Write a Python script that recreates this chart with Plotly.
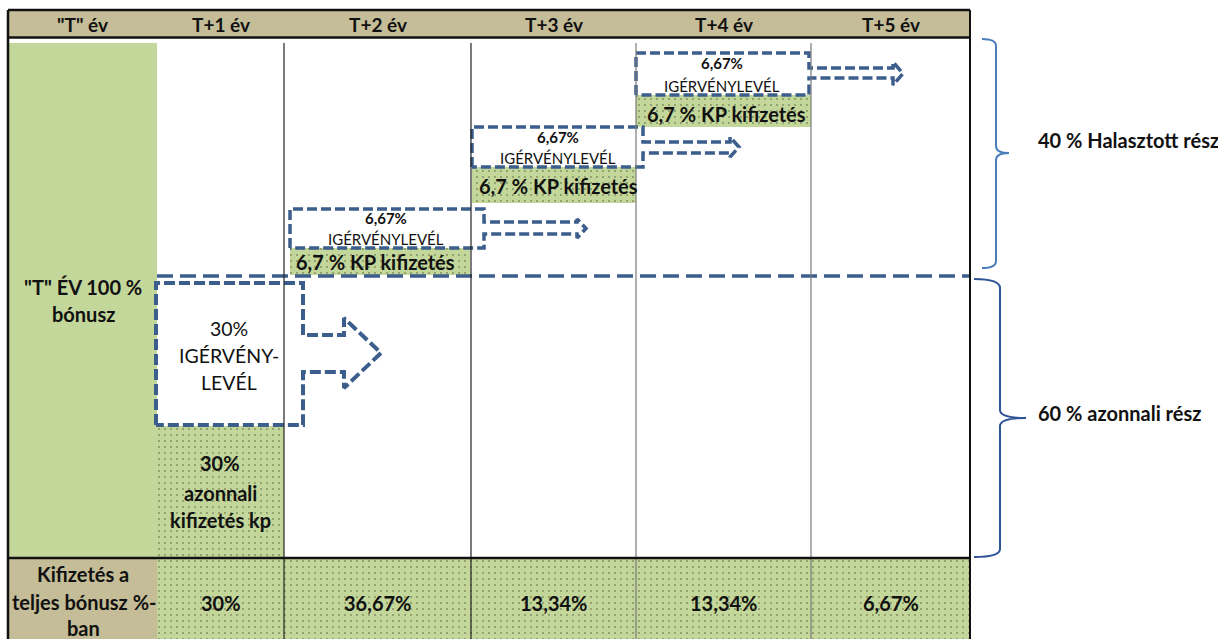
import plotly.graph_objects as go

# ---------------- data ----------------
year_headers = ['"T" év', 'T+1 év', 'T+2 év', 'T+3 év', 'T+4 év', 'T+5 év']
payout_share = [30.00, 36.67, 13.34, 13.34, 6.67]          # % of total bonus paid per year (T+1..T+5)
immediate_cash = 30                                         # % immediate cash
immediate_letter = 30                                       # % promise letter (T+1)
deferred_letters = [6.67, 6.67, 6.67]                       # % deferred promise letters (T+2..T+4)
deferred_cash = [6.7, 6.7, 6.7]                             # % deferred cash (T+2..T+4)
deferred_total = 40
immediate_total = 60

def hu(v, nd=2):
    s = f"{v:.{nd}f}".rstrip("0").rstrip(".") if nd else f"{v}"
    return s.replace(".", ",")

# ---------------- layout constants ----------------
W, H = 1218, 639
XE = [8, 157, 284, 471, 636, 811, 970]      # column edges
Y_TOP, Y_HEAD, Y_BODY0, Y_FOOT, Y_END = 10, 37.5, 43, 558, 660
Y_SPLIT = 276
GREEN = "#c4d79b"
TAN = "#c4bd97"
BLUE = "#3b5e8c"
FONT = "Lato"

fig = go.Figure()

def rect_xy(x0, x1, y0, y1):
    return [x0, x1, x1, x0, x0], [y0, y0, y1, y1, y0]

def solid(x0, x1, y0, y1, color):
    xs, ys = rect_xy(x0, x1, y0, y1)
    fig.add_trace(go.Scatter(x=xs, y=ys, mode="none", fill="toself",
                             fillcolor=color, hoverinfo="skip"))

def dotted(x0, x1, y0, y1):
    xs, ys = rect_xy(x0, x1, y0, y1)
    fig.add_trace(go.Scatter(x=xs, y=ys, mode="none", fill="toself",
                             fillcolor=GREEN,
                             fillpattern=dict(shape=".", fgcolor="#3a4424", bgcolor=GREEN,
                                              size=6, solidity=0.08),
                             hoverinfo="skip"))

# header band
solid(XE[0], XE[-1], Y_TOP, Y_HEAD, TAN)
# left green column
solid(XE[0], XE[1], Y_BODY0, Y_FOOT, GREEN)
# footer
solid(XE[0], XE[1], Y_FOOT, Y_END, TAN)
for i in range(1, 6):
    dotted(XE[i], XE[i + 1], Y_FOOT, Y_END)
# immediate cash cell
dotted(XE[1], XE[2], 426, Y_FOOT)
# deferred cash cells
cash_cells = [(290, 470, 248, 275), (472, 636, 167, 203), (636, 811, 95, 127)]
for (x0, x1, y0, y1) in cash_cells:
    dotted(x0, x1, y0, y1)

# grid lines
shapes = []
for i, x in enumerate(XE[2:-1]):
    shapes.append(dict(type="line", x0=x, x1=x, y0=Y_BODY0, y1=Y_END,
                       line=dict(color="#222" if i < 2 else "#7a7a7a", width=1.2)))
shapes += [
    dict(type="line", x0=XE[0], x1=XE[-1], y0=Y_TOP, y1=Y_TOP, line=dict(color="#111", width=2.5)),
    dict(type="line", x0=XE[0], x1=XE[-1], y0=Y_HEAD, y1=Y_HEAD, line=dict(color="#111", width=2.5)),
    dict(type="line", x0=XE[0], x1=XE[-1], y0=Y_FOOT, y1=Y_FOOT, line=dict(color="#111", width=2.5)),
    dict(type="line", x0=XE[0], x1=XE[0], y0=Y_TOP, y1=Y_END, line=dict(color="#111", width=2.5)),
    dict(type="line", x0=XE[-1], x1=XE[-1], y0=Y_TOP, y1=Y_END, line=dict(color="#111", width=2)),
]
# braces
shapes.append(dict(type="path",
    path="M 982,39 Q 996,39 996,46 L 996,146 Q 996,153 1009,153 Q 996,153 996,160 L 996,261 Q 996,268 982,268",
    line=dict(color="#4a7ebb", width=2)))
shapes.append(dict(type="path",
    path="M 974,279 Q 1000,279 1000,288 L 1000,410 Q 1000,418 1026,418 Q 1000,418 1000,426 L 1000,549 Q 1000,557 974,557",
    line=dict(color="#2f5496", width=2)))

# split dashed line
fig.add_trace(go.Scatter(x=[XE[1], XE[-1]], y=[Y_SPLIT, Y_SPLIT], mode="lines",
                         line=dict(color=BLUE, width=3.5, dash="16px,7px"), hoverinfo="skip"))

def callout(l, r, t, b, st, sb, se, ht, hb, tip, width=3.5, dash="10px,4px"):
    mid = (ht + hb) / 2
    xs = [l, l, r, r, se, se, tip, se, se, r, r, l]
    ys = [b, t, t, st, st, ht, mid, hb, sb, sb, b, b]
    fig.add_trace(go.Scatter(x=xs, y=ys, mode="lines",
                             line=dict(color=BLUE, width=width, dash=dash), hoverinfo="skip"))

# big callout (immediate promise letter)
callout(156, 303, 283, 425, 335, 372, 344, 318, 388, 381, width=4, dash="11px,4px")
# deferred callouts
callout(290, 484, 209, 248, 222, 234, 577, 219, 238, 586)
callout(472, 643, 127, 167, 142, 153, 730, 137, 157, 739)
callout(636, 809, 53, 95, 68, 78, 893, 62, 85, 903)

ann = []
def txt(x, y, s, size=20, bold=True, xanchor="center", color="#111"):
    ann.append(dict(x=x, y=y, xref="x", yref="y", text=f"<b>{s}</b>" if bold else s,
                    showarrow=False, xanchor=xanchor, yanchor="middle",
                    font=dict(family=FONT, size=size, color=color)))

# header
for i, h in enumerate(year_headers):
    txt((XE[i] + XE[i + 1]) / 2, 24, h, size=19)
# left column
txt(83, 287, '"T" ÉV 100 %')
txt(83, 314, 'bónusz')
# footer
txt(83, 574, 'Kifizetés a')
txt(84, 602, 'teljes bónusz %-')
txt(83, 628, 'ban')
for i, v in enumerate(payout_share):
    txt((XE[i + 1] + XE[i + 2]) / 2, 603, hu(v) + "%")
# big callout text
txt(229, 328, f"{immediate_letter}%", size=19.5, bold=False)
txt(229, 355, "IGÉRVÉNY-", size=19.5, bold=False)
txt(229, 382, "LEVÉL", size=19.5, bold=False)
# immediate cash
txt(220, 463, f"{immediate_cash}%")
txt(220, 493, "azonnali")
txt(220, 520, "kifizetés kp")
# deferred
letter_pos = [(386, 218, 239), (558, 137, 158), (722, 63, 86)]
cash_pos = [(294, 262), (477, 186), (645, 114)]
for i in range(3):
    lx, ly1, ly2 = letter_pos[i]
    txt(lx, ly1, hu(deferred_letters[i]) + "%", size=15)
    txt(lx, ly2, "IGÉRVÉNYLEVÉL", size=15, bold=False)
    cx, cy = cash_pos[i]
    txt(cx, cy, f"{hu(deferred_cash[i], 1)} % KP kifizetés", xanchor="left")
# right labels
txt(1036, 140, f"{deferred_total} % Halasztott rész", xanchor="left")
txt(1036, 413, f"{immediate_total} % azonnali rész", xanchor="left")

fig.update_layout(
    width=W, height=H, margin=dict(l=0, r=0, t=0, b=0),
    paper_bgcolor="white", plot_bgcolor="white", showlegend=False,
    xaxis=dict(range=[0, W], visible=False, fixedrange=True),
    yaxis=dict(range=[H, 0], visible=False, fixedrange=True),
    shapes=shapes, annotations=ann,
)
fig.write_html("out.html", config={"displayModeBar": False},
               post_script="document.body.style.margin='0';document.body.style.overflow='hidden';")
